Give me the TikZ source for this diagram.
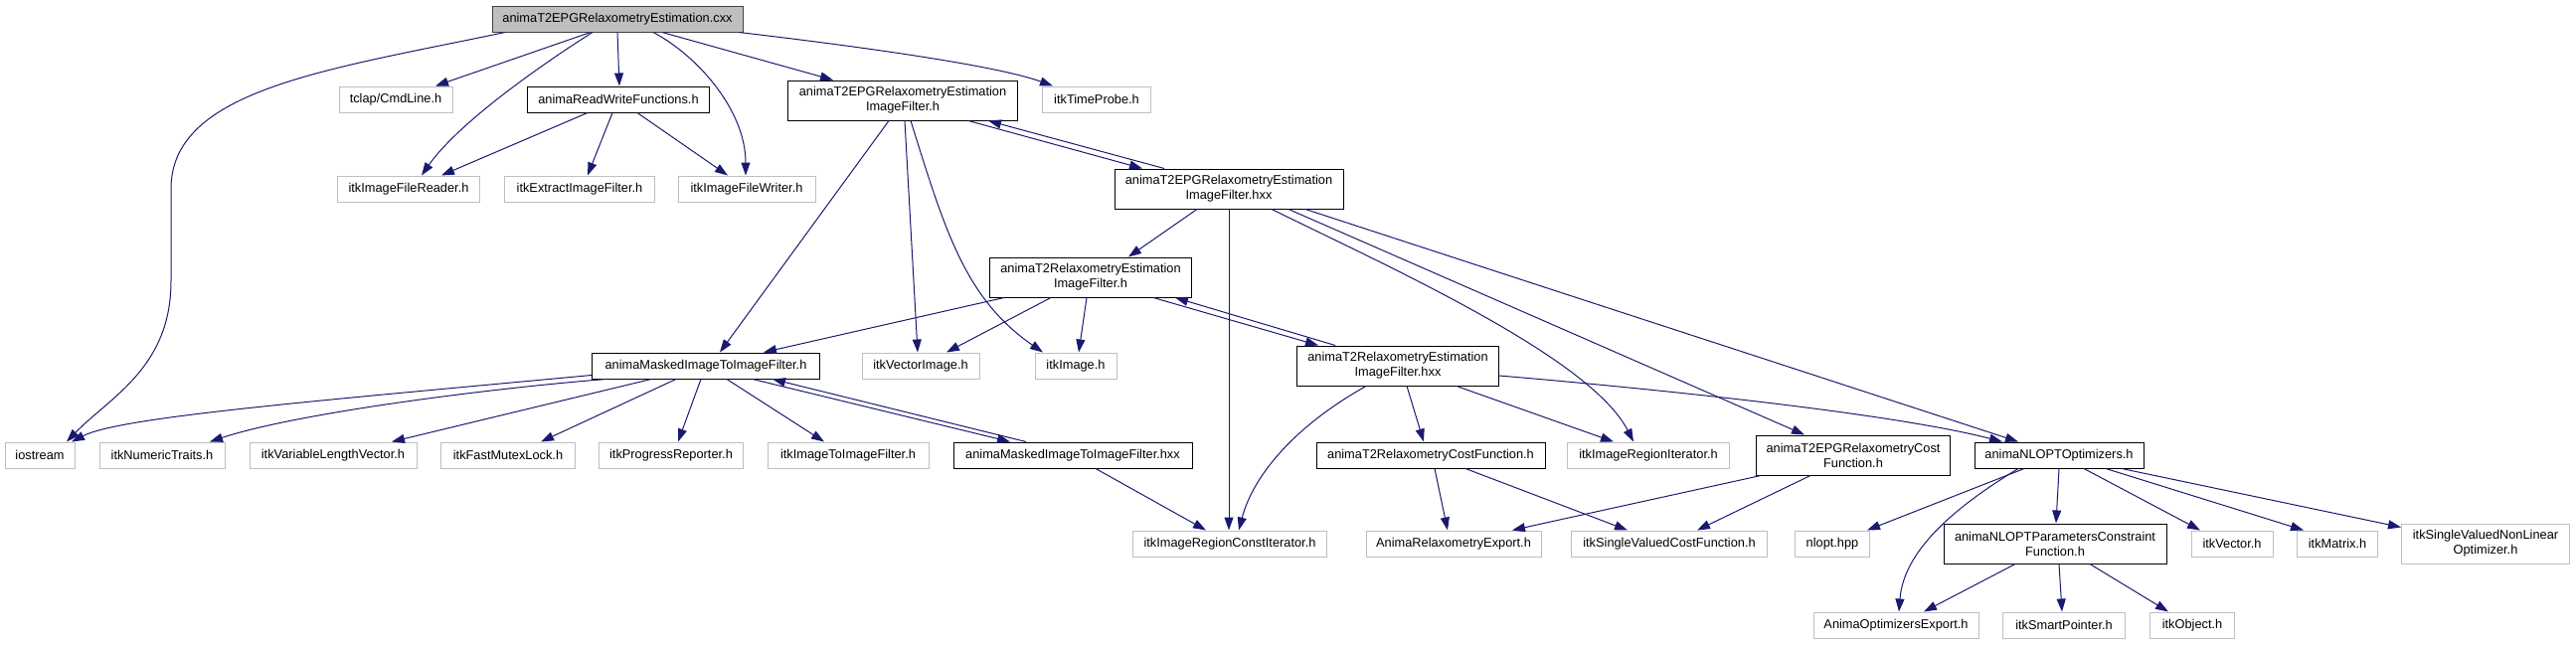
\documentclass[tikz,border=0pt]{standalone}
\usepackage{fontspec}
\setmainfont{Liberation Sans}
\usetikzlibrary{arrows.meta}
\definecolor{depblue}{HTML}{191970}
\definecolor{grey75}{HTML}{BFBFBF}
\definecolor{grey25}{HTML}{404040}
\tikzset{
    include graph/.style = {>={Triangle[length=13pt, width=9pt]},
                            x=1pt, y=-1pt,
                            font=\fontsize{12.8}{15}\selectfont},
    file/.style          = {draw, fill=white, line width=1pt,
                            minimum height=26pt, inner sep=0pt,
                            align=center},
    docfile/.style       = {file, draw=black},
    extfile/.style       = {file, draw=grey75},
    rootfile/.style      = {file, draw=grey25, fill=grey75},
    twoline/.style       = {minimum height=40pt},
    dep/.style           = {->, draw=depblue, line width=1pt}
}

\begin{document}
\begin{tikzpicture}[include graph]
\useasboundingbox (0,0) rectangle (2591,648);

% Source file and its direct includes
\node[rootfile, minimum width=252pt] (root) at (621,19) {animaT2EPGRelaxometryEstimation.cxx};
\node[extfile, minimum width=114pt] (tclap) at (398,100) {tclap/CmdLine.h};
\node[docfile, minimum width=183pt] (rw) at (622,100) {animaReadWriteFunctions.h};
\node[docfile, twoline, minimum width=231pt] (epgh) at (908,101)
    {animaT2EPGRelaxometryEstimation\\ImageFilter.h};
\node[extfile, minimum width=109pt] (probe) at (1103,100) {itkTimeProbe.h};
\node[extfile, minimum width=143pt] (reader) at (411,190) {itkImageFileReader.h};
\node[extfile, minimum width=151pt] (extract) at (583,190) {itkExtractImageFilter.h};
\node[extfile, minimum width=138pt] (writer) at (751,190) {itkImageFileWriter.h};
\node[docfile, twoline, minimum width=230pt] (epghxx) at (1236,190)
    {animaT2EPGRelaxometryEstimation\\ImageFilter.hxx};

% Relaxometry filter layer
\node[docfile, twoline, minimum width=203pt] (t2h) at (1097,279)
    {animaT2RelaxometryEstimation\\ImageFilter.h};
\node[docfile, minimum width=229pt] (masked) at (710,368) {animaMaskedImageToImageFilter.h};
\node[extfile, minimum width=118pt] (vecimg) at (926,368) {itkVectorImage.h};
\node[extfile, minimum width=82pt] (itkimg) at (1082,368) {itkImage.h};
\node[docfile, twoline, minimum width=203pt] (t2hxx) at (1406,368)
    {animaT2RelaxometryEstimation\\ImageFilter.hxx};

% Row of leaves under the masked filter
\node[extfile, minimum width=70pt] (iostream) at (40,458) {iostream};
\node[extfile, minimum width=126pt] (numtr) at (163,458) {itkNumericTraits.h};
\node[extfile, minimum width=168pt] (varlen) at (335,458) {itkVariableLengthVector.h};
\node[extfile, minimum width=135pt] (mutex) at (511,458) {itkFastMutexLock.h};
\node[extfile, minimum width=145pt] (progress) at (675,458) {itkProgressReporter.h};
\node[extfile, minimum width=162pt] (img2img) at (853,458) {itkImageToImageFilter.h};
\node[docfile, minimum width=240pt] (maskedhxx) at (1079,458) {animaMaskedImageToImageFilter.hxx};
\node[docfile, minimum width=230pt] (t2cost) at (1439,458) {animaT2RelaxometryCostFunction.h};
\node[extfile, minimum width=163pt] (regiter) at (1658,458) {itkImageRegionIterator.h};
\node[docfile, twoline, minimum width=195pt] (epgcost) at (1864,458)
    {animaT2EPGRelaxometryCost\\Function.h};
\node[docfile, minimum width=170pt] (nlopt) at (2071,458) {animaNLOPTOptimizers.h};

% Lower rows
\node[extfile, minimum width=195pt] (constiter) at (1237,547) {itkImageRegionConstIterator.h};
\node[extfile, minimum width=176pt] (relexport) at (1462,547) {AnimaRelaxometryExport.h};
\node[extfile, minimum width=197pt] (svcost) at (1679,547) {itkSingleValuedCostFunction.h};
\node[extfile, minimum width=75pt] (nlopthpp) at (1843,547) {nlopt.hpp};
\node[docfile, twoline, minimum width=224pt] (params) at (2067,547)
    {animaNLOPTParametersConstraint\\Function.h};
\node[extfile, minimum width=82pt] (vector) at (2245,547) {itkVector.h};
\node[extfile, minimum width=81pt] (matrix) at (2351,547) {itkMatrix.h};
\node[extfile, twoline, minimum width=169pt] (nonlin) at (2500,547)
    {itkSingleValuedNonLinear\\Optimizer.h};
\node[extfile, minimum width=166pt] (optexport) at (1907,629) {AnimaOptimizersExport.h};
\node[extfile, minimum width=123pt] (smartptr) at (2076,629) {itkSmartPointer.h};
\node[extfile, minimum width=85pt] (object) at (2205,629) {itkObject.h};

% Straight dependencies: from/shift/to/shift
\foreach \a/\sa/\b/\sb in {
    root/-27/tclap/40, root/0/rw/1, root/45/epgh/-70,
    rw/-31/reader/33, rw/-6/extract/8, rw/19/writer/-19,
    epgh/-14/masked/14, epgh/2/vecimg/-3, epgh/66/epghxx/-87,
    epghxx/-32/t2h/38, epghxx/0/constiter/-1,
    epghxx/60/epgcost/-49, epghxx/77/nlopt/-41,
    t2h/-87/masked/58, t2h/-40/vecimg/26, t2h/-4/itkimg/3,
    t2h/63/t2hxx/-80,
    t2hxx/9/t2cost/-7, t2hxx/59/regiter/-35,
    masked/-55/varlen/59, masked/-30/mutex/33, masked/-5/progress/7,
    masked/21/img2img/-24, masked/47/maskedhxx/-63,
    maskedhxx/23/constiter/-24,
    t2cost/4/relexport/-6, t2cost/35/svcost/-42,
    epgcost/-93/relexport/59, epgcost/-43/svcost/28,
    nlopt/-35/nlopthpp/35, nlopt/0/params/1, nlopt/25/vector/-32,
    nlopt/47/matrix/-34,
    params/-40/optexport/28, params/4/smartptr/-2, params/35/object/-24}
    \draw[dep] ([xshift=\sa pt]\a.south) -- ([xshift=\sb pt]\b.north);

% Back edges of the .h/.hxx pairs
\foreach \a/\sa/\b/\sb in {
    epghxx/-65/epgh/86, t2hxx/-63/t2h/85, maskedhxx/-47/masked/67}
    \draw[dep] ([xshift=\sa pt]\a.north) -- ([xshift=\sb pt]\b.south);

% Curved dependencies
\draw[dep] ([xshift=-113pt]root.south) .. controls (330,70) and (172,90) .. (172,190)
    -- (172,283) .. controls (172,370) and (110,400) .. ([xshift=27pt]iostream.north);
\draw[dep] ([xshift=-25pt]root.south) .. controls (540,68) and (460,125)
    .. ([xshift=13pt]reader.north);
\draw[dep] ([xshift=36pt]root.south) .. controls (700,55) and (750,110)
    .. ([xshift=-1pt]writer.north);
\draw[dep] ([xshift=122pt]root.south) .. controls (850,45) and (1000,65)
    .. ([xshift=-44pt]probe.north);
\draw[dep] ([xshift=8pt]epgh.south) .. controls (950,230) and (970,300)
    .. ([xshift=-33pt]itkimg.north);
\draw[dep] ([xshift=43pt]epghxx.south) .. controls (1400,270) and (1600,360)
    .. ([xshift=-15pt]regiter.north);
\draw[dep] ([xshift=-32pt]t2hxx.south) .. controls (1300,430) and (1260,480)
    .. ([xshift=9pt]constiter.north);
\draw[dep] ([yshift=-10pt]t2hxx.east) .. controls (1650,390) and (1900,415)
    .. ([xshift=-57pt]nlopt.north);
\draw[dep] ([yshift=4pt]masked.south west) .. controls (300,405) and (120,420)
    .. ([xshift=32pt]iostream.north);
\draw[dep] ([xshift=-100pt]masked.south) .. controls (500,390) and (300,415)
    .. ([xshift=48pt]numtr.north);
\draw[dep] ([xshift=-41pt]nlopt.south) .. controls (1975,505) and (1915,550)
    .. ([xshift=3pt]optexport.north);
\draw[dep] ([xshift=63pt]nlopt.south) -- ([yshift=-4pt]nonlin.north west);

\end{tikzpicture}
\end{document}
